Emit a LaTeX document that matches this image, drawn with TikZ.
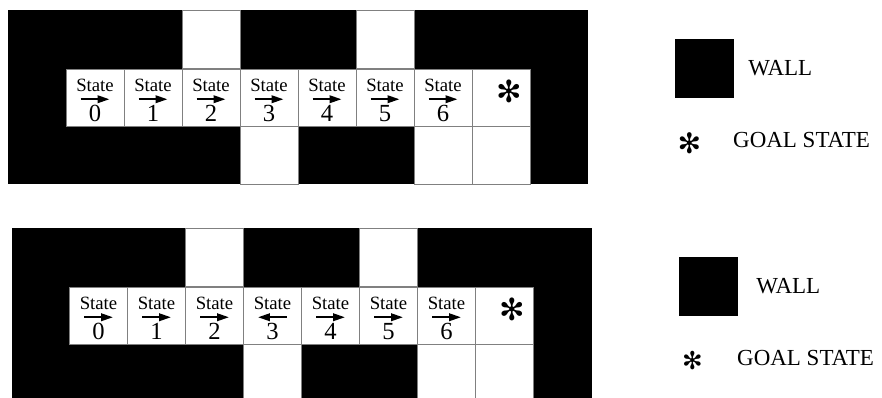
\documentclass[tikz,border=0pt]{standalone}
\usepackage{fontspec}
\setmainfont{Liberation Serif}
\newfontfamily\dejavu{DejaVu Sans}
\usetikzlibrary{arrows.meta, positioning}
\newcommand{\statefont}{\fontsize{16}{16}\selectfont}
\newcommand{\digitfont}{\fontsize{21}{21}\selectfont}
\newcommand{\legendfont}{\fontsize{19.6}{20}\selectfont}
\newcommand{\rarrow}{\tikz[baseline=0pt]\draw[line width=1.4pt, -{Triangle[length=10pt, width=6.5pt]}] (0,0) -- (24.5pt,0);}
\newcommand{\larrow}{\tikz[baseline=0pt]\draw[line width=1.4pt, -{Triangle[length=10pt, width=6.5pt]}] (24.5pt,0) -- (0,0);}
\newcommand{\cellstack}[2]{%
  \makebox[0pt]{\raisebox{5.3pt}{\statefont State}}%
  \makebox[0pt]{\raisebox{-1.5pt}{#1}}%
  \makebox[0pt]{\raisebox{-20.9pt}{\digitfont #2}}}

\begin{document}
\begin{tikzpicture}[x=0.03cm, y=0.03cm,
  hole/.style={draw=gray, line width=0.8pt, fill=white, minimum width=1.74cm, minimum height=1.74cm, inner sep=0pt},
  statecell/.style={hole, minimum height=1.71cm, text height=0pt, text depth=0pt},
  goalstar/.style={inner sep=0pt, font=\dejavu\fontsize{#1}{#1}\selectfont},
  goalstar/.default=26,
  wallkey/.style={fill=black, minimum width=1.77cm, minimum height=1.77cm, inner sep=0pt},
  legendtxt/.style={font=\legendfont, inner sep=0pt, anchor=west}]
  \useasboundingbox (0,0) rectangle (882,398);

  % Upper maze
  \fill[black] (8,214) rectangle (588,388);
  \node[hole] (uA) at (211,358.5) {};
  \node[hole] (uB) at (385,358.5) {};
  \node[statecell] (u0) at (95,300.5) {\cellstack{\rarrow}{0}};
  \node[statecell] (u1) at (153,300.5) {\cellstack{\rarrow}{1}};
  \node[statecell] (u2) at (211,300.5) {\cellstack{\rarrow}{2}};
  \node[statecell] (u3) at (269,300.5) {\cellstack{\rarrow}{3}};
  \node[statecell] (u4) at (327,300.5) {\cellstack{\rarrow}{4}};
  \node[statecell] (u5) at (385,300.5) {\cellstack{\rarrow}{5}};
  \node[statecell] (u6) at (443,300.5) {\cellstack{\rarrow}{6}};
  \node[statecell] (ugoal) at (501,300.5) {};
  \node[goalstar] (ustar) at ([shift={(8,6)}]ugoal.center) {✻};
  \node[hole] (uC) at (269,243) {};
  \node[hole] (uD) at (443,243) {};
  \node[hole] (uE) at (501,243) {};

  % Upper legend
  \node[wallkey] (wallA) at (704.5,329.5) {};
  \node[legendtxt, right=0.42cm of wallA] (wallAtxt) {WALL};
  \node[goalstar=24] (starA) at (689.5,254.5) {✻};
  \node[legendtxt] (goalAtxt) at (733,258) {GOAL STATE};

  % Lower maze
  \begin{scope}[shift={(3.5,-218)}]
    \fill[black] (8,214) rectangle (588,388);
    \node[hole] (lA) at (211,358.5) {};
    \node[hole] (lB) at (385,358.5) {};
    \node[statecell] (l0) at (95,300.5) {\cellstack{\rarrow}{0}};
    \node[statecell] (l1) at (153,300.5) {\cellstack{\rarrow}{1}};
    \node[statecell] (l2) at (211,300.5) {\cellstack{\rarrow}{2}};
    \node[statecell] (l3) at (269,300.5) {\cellstack{\larrow}{3}};
    \node[statecell] (l4) at (327,300.5) {\cellstack{\rarrow}{4}};
    \node[statecell] (l5) at (385,300.5) {\cellstack{\rarrow}{5}};
    \node[statecell] (l6) at (443,300.5) {\cellstack{\rarrow}{6}};
    \node[statecell] (lgoal) at (501,300.5) {};
    \node[goalstar] (lstar) at ([shift={(8,6)}]lgoal.center) {✻};
    \node[hole] (lC) at (269,243) {};
    \node[hole] (lD) at (443,243) {};
    \node[hole] (lE) at (501,243) {};
  \end{scope}

  % Lower legend
  \node[wallkey] (wallB) at (708.5,111.5) {};
  \node[legendtxt, right=0.54cm of wallB] (wallBtxt) {WALL};
  \node[goalstar=21] (starB) at (692.5,37.5) {✻};
  \node[legendtxt] (goalBtxt) at (737,40) {GOAL STATE};
\end{tikzpicture}
\end{document}
